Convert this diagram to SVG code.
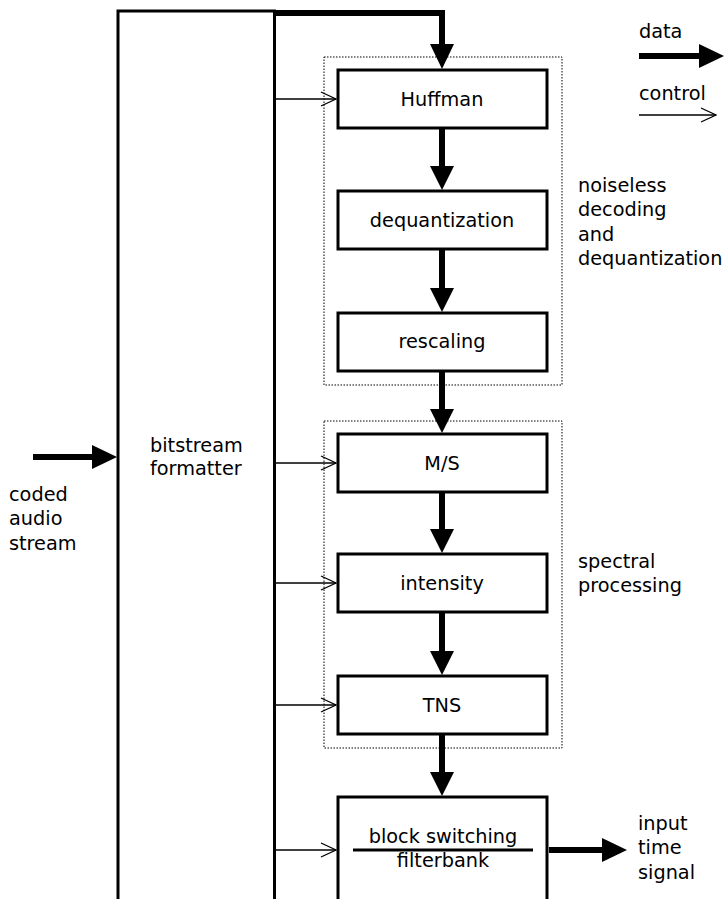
<svg xmlns="http://www.w3.org/2000/svg" width="725" height="899" viewBox="0 0 725 899">
<style>
text{font-family:"DejaVu Sans","Liberation Sans",sans-serif;font-size:19.3px;fill:#000}
.c{text-anchor:middle}
.box{fill:#fff;stroke:#000;stroke-width:3}
.grp{fill:none;stroke:#000;stroke-width:1;stroke-dasharray:1.5 1.5}
.data{stroke:#000;stroke-width:6;fill:none}
.ctl{stroke:#000;stroke-width:1.3;fill:none}
.head{fill:#000}
</style>
<defs>
<marker id="open" viewBox="0 0 17 17" refX="16" refY="8.5" markerWidth="17" markerHeight="17" markerUnits="userSpaceOnUse" orient="auto">
<path d="M1,1.5 L16,8.5 L1,15.5" fill="none" stroke="#000" stroke-width="1.3"/>
</marker>
</defs>
<g id="groups">
<rect class="grp" x="324" y="57" width="238" height="328"/>
<rect class="grp" x="324" y="421" width="238" height="327"/>
</g>
<g id="formatter">
<path d="M118,899 V11 H274.5 V899" fill="#fff" stroke="#000" stroke-width="3"/>
<text x="150" y="452">bitstream</text>
<text x="150" y="475">formatter</text>
</g>
<g id="huffman"><rect class="box" x="338" y="70" width="209" height="58"/><text class="c" x="442" y="106">Huffman</text></g>
<g id="dequantization"><rect class="box" x="338" y="191" width="209" height="58"/><text class="c" x="442" y="227">dequantization</text></g>
<g id="rescaling"><rect class="box" x="338" y="313" width="209" height="58"/><text class="c" x="442" y="348">rescaling</text></g>
<g id="ms"><rect class="box" x="338" y="434" width="209" height="58"/><text class="c" x="442" y="470">M/S</text></g>
<g id="intensity"><rect class="box" x="338" y="554" width="209" height="58"/><text class="c" x="442" y="590">intensity</text></g>
<g id="tns"><rect class="box" x="338" y="676" width="209" height="58"/><text class="c" x="442" y="712">TNS</text></g>
<g id="filterbank">
<path d="M338,899 V797 H547 V899" fill="#fff" stroke="#000" stroke-width="3"/>
<text class="c" x="443" y="843">block switching</text>
<line x1="353" y1="850" x2="533" y2="850" stroke="#000" stroke-width="3"/>
<text class="c" x="443" y="867">filterbank</text>
</g>
<g id="connectors">
<path class="data" d="M276,13 H442 V45"/>
<polygon class="head" points="430,44 454,44 442,69"/>
<line class="data" x1="442" y1="129" x2="442" y2="167"/>
<polygon class="head" points="430,166 454,166 442,190"/>
<line class="data" x1="442" y1="250" x2="442" y2="289"/>
<polygon class="head" points="430,288 454,288 442,312"/>
<line class="data" x1="442" y1="372" x2="442" y2="410"/>
<polygon class="head" points="430,409 454,409 442,433"/>
<line class="data" x1="442" y1="493" x2="442" y2="530"/>
<polygon class="head" points="430,529 454,529 442,553"/>
<line class="data" x1="442" y1="613" x2="442" y2="652"/>
<polygon class="head" points="430,651 454,651 442,675"/>
<line class="data" x1="442" y1="735" x2="442" y2="773"/>
<polygon class="head" points="430,772 454,772 442,796"/>
<line class="data" x1="33" y1="457" x2="93" y2="457"/>
<polygon class="head" points="92,445 92,469 117,457"/>
<line class="data" x1="549" y1="850" x2="603" y2="850"/>
<polygon class="head" points="602,838 602,862 627,850"/>
<line class="ctl" x1="276" y1="99" x2="336" y2="99" marker-end="url(#open)"/>
<line class="ctl" x1="276" y1="463" x2="336" y2="463" marker-end="url(#open)"/>
<line class="ctl" x1="276" y1="583" x2="336" y2="583" marker-end="url(#open)"/>
<line class="ctl" x1="276" y1="705" x2="336" y2="705" marker-end="url(#open)"/>
<line class="ctl" x1="276" y1="850" x2="336" y2="850" marker-end="url(#open)"/>
</g>
<g id="legend">
<text x="639" y="38">data</text>
<line class="data" x1="639" y1="56" x2="700" y2="56"/>
<polygon class="head" points="699,44 699,68 724,56"/>
<text x="639" y="100">control</text>
<line class="ctl" x1="639" y1="115" x2="716" y2="115" marker-end="url(#open)"/>
</g>
<g id="labels">
<text x="9" y="501">coded</text>
<text x="9" y="525">audio</text>
<text x="9" y="550">stream</text>
<text x="578" y="192">noiseless</text>
<text x="578" y="216">decoding</text>
<text x="578" y="241">and</text>
<text x="578" y="265">dequantization</text>
<text x="578" y="568">spectral</text>
<text x="578" y="592">processing</text>
<text x="638" y="830">input</text>
<text x="638" y="854">time</text>
<text x="638" y="879">signal</text>
</g>
</svg>
